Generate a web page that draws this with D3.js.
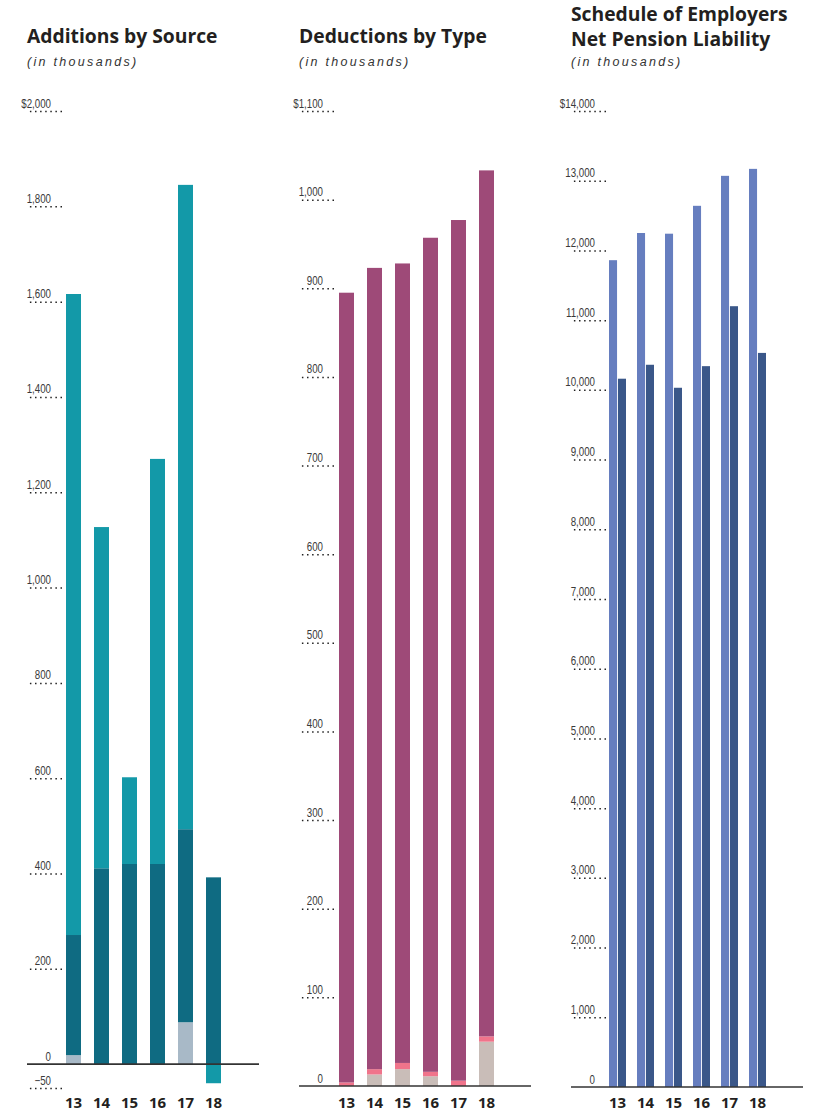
<!DOCTYPE html>
<html>
<head>
<meta charset="utf-8">
<script src="https://d3js.org/d3.v7.min.js"></script>
<style>
  body { margin: 0; background: #fff; }
  .title { font-family: "Open Sans", sans-serif; font-weight: 700; font-size: 19.3px; fill: #231f20; }
  .sub { font-family: "Liberation Sans", sans-serif; font-style: italic; font-size: 12.5px; letter-spacing: 2.3px; fill: #333; }
  .tick text { font-family: "Liberation Sans", sans-serif; font-size: 12.5px; fill: #3a3a3a; }
  .year { font-family: "Open Sans", sans-serif; font-weight: 700; font-size: 15px; fill: #231f20; }
</style>
</head>
<body>
<svg id="chart" width="826" height="1113"></svg>
<script>
// fiscal years
const years = ["13", "14", "15", "16", "17", "18"];

// Additions by Source (thousands)
const memberContrib = [19, 0, 0, 0, 88, 0];
const employerContrib = [252, 411, 420, 420, 405, 392];
const investmentIncome = [1345, 716, 182, 850, 1352, -40];
const addTicks = [-50, 0, 200, 400, 600, 800, 1000, 1200, 1400, 1600, 1800, 2000];

// Deductions by Type (thousands)
const adminExpense = [0, 13, 19, 11, 0, 50];
const refunds = [4, 6, 7, 5, 6, 6];
const benefits = [891, 904, 902, 941, 971, 977];
const dedTicks = [0, 100, 200, 300, 400, 500, 600, 700, 800, 900, 1000, 1100];

// Schedule of Employers Net Pension Liability (thousands)
const totalLiability = [11860, 12250, 12240, 12640, 13070, 13170];
const netLiability = [10160, 10360, 10030, 10340, 11200, 10530];
const nplTicks = [0, 1000, 2000, 3000, 4000, 5000, 6000, 7000, 8000, 9000, 10000, 11000, 12000, 13000, 14000];

const svg = d3.select("#chart");

// draws title, y ticks, baseline and year labels for one panel
function panel(opt) {
  const g = svg.append("g");
  opt.titles.forEach((t, i) => {
    g.append("text").attr("class", "title").attr("x", opt.left).attr("y", opt.titleY + i * 25).text(t);
  });
  g.append("text").attr("class", "sub").attr("x", opt.left).attr("y", 66).text("(in thousands)");

  const axis = g.append("g")
    .attr("transform", `translate(${opt.left + 35},0)`)
    .call(d3.axisLeft(opt.y).tickValues(opt.ticks).tickSize(35).tickPadding(0)
      .tickFormat((d, i) => (i === opt.ticks.length - 1 ? "$" : "") + d3.format(",")(d)));
  axis.select(".domain").remove();
  axis.selectAll(".tick line")
    .attr("stroke", "#222").attr("stroke-width", 1.5).attr("stroke-dasharray", "1.5,3.6")
    .attr("opacity", d => d === 0 ? 0 : 1);
  // condensed look for the tick numbers
  axis.selectAll(".tick text")
    .attr("x", 0).attr("dy", 0)
    .attr("transform", "translate(-11,-4) scale(0.78,1)");

  g.append("line")
    .attr("x1", opt.left).attr("x2", opt.left + 232)
    .attr("y1", opt.y(0)).attr("y2", opt.y(0))
    .attr("stroke", "#333").attr("stroke-width", 1.6);

  g.selectAll(".year").data(years).join("text")
    .attr("class", "year")
    .attr("x", d => opt.x(d)).attr("y", 1108)
    .attr("text-anchor", "middle").text(d => d);
  return g;
}

function stacked(opt, keys, cols, colors) {
  const rows = years.map((yr, i) => {
    const r = { year: yr };
    keys.forEach((k, j) => r[k] = cols[j][i]);
    return r;
  });
  const series = d3.stack().keys(keys).offset(d3.stackOffsetDiverging)(rows);
  svg.append("g").selectAll("g").data(series).join("g")
    .attr("fill", (d, i) => colors[i])
    .selectAll("rect").data(d => d).join("rect")
    .attr("x", d => opt.x(d.data.year) - 7.5)
    .attr("width", 15)
    .attr("y", d => opt.y(d[1]))
    .attr("height", d => Math.abs(opt.y(d[0]) - opt.y(d[1])));
}

// panel 1
const p1 = {
  left: 27, titleY: 43, titles: ["Additions by Source"], ticks: addTicks,
  x: d3.scalePoint().domain(years).range([73.5, 213.5]),
  y: d3.scaleLinear().domain([-50, 2000]).range([1088, 111])
};
stacked(p1, ["member", "employer", "investment"],
  [memberContrib, employerContrib, investmentIncome],
  ["#a8b9c7", "#0f6b82", "#1399a8"]);
panel(p1);

// panel 2
const p2 = {
  left: 299, titleY: 43, titles: ["Deductions by Type"], ticks: dedTicks,
  x: d3.scalePoint().domain(years).range([346.5, 486.5]),
  y: d3.scaleLinear().domain([0, 1100]).range([1086, 111])
};
stacked(p2, ["admin", "refunds", "benefits"],
  [adminExpense, refunds, benefits],
  ["#c9bdb8", "#f0748b", "#9e4a78"]);
panel(p2);

// panel 3
const p3 = {
  left: 571, titleY: 20.5, titles: ["Schedule of Employers", "Net Pension Liability"], ticks: nplTicks,
  x: d3.scalePoint().domain(years).range([617.5, 757.5]),
  y: d3.scaleLinear().domain([0, 14000]).range([1087, 111])
};
const inner = d3.scaleBand().domain(["total", "net"]).range([-8.5, 8.5]).paddingInner(0.1);
const nplRows = years.map((yr, i) => ({ year: yr, total: totalLiability[i], net: netLiability[i] }));
svg.append("g").selectAll("g").data(nplRows).join("g")
  .attr("transform", d => `translate(${p3.x(d.year)},0)`)
  .selectAll("rect").data(d => inner.domain().map(k => ({ key: k, value: d[k] }))).join("rect")
  .attr("x", d => inner(d.key))
  .attr("width", inner.bandwidth())
  .attr("y", d => p3.y(d.value))
  .attr("height", d => p3.y(0) - p3.y(d.value))
  .attr("fill", d => d.key === "total" ? "#667ebf" : "#3a5789");
panel(p3);
</script>
</body>
</html>
